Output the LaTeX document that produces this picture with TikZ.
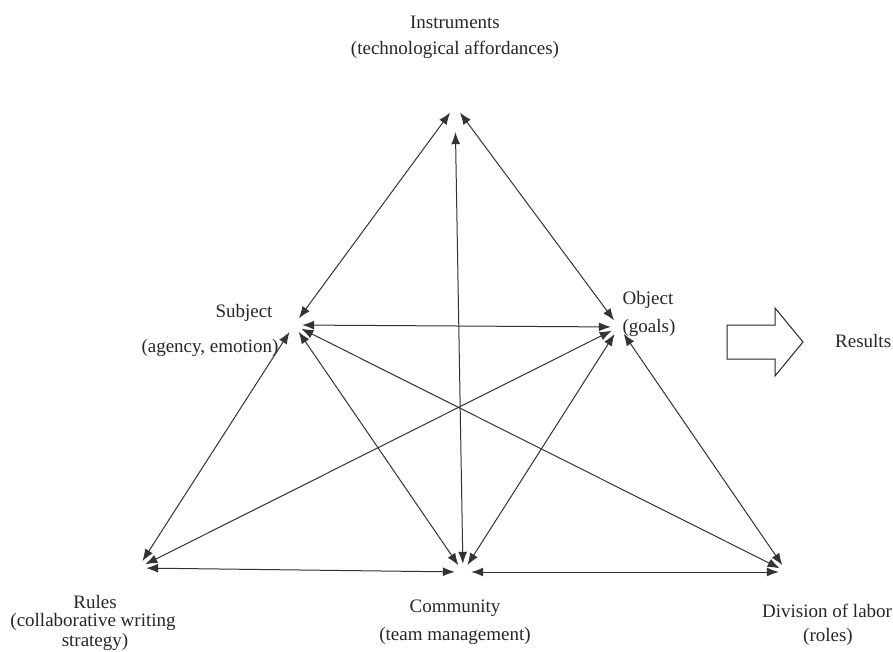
\documentclass[tikz,border=0pt]{standalone}
\usepackage{fontspec}
\setmainfont{Liberation Serif}
\usetikzlibrary{arrows.meta}
\begin{document}
\begin{tikzpicture}[x=1pt,y=-1pt,
  vertex/.style={circle,minimum size=16pt,inner sep=0pt},
  link/.style={draw=black!80,line width=1pt,
    {Latex[length=12pt,width=9pt]}-{Latex[length=12pt,width=9pt]}},
  lbl/.style={font=\fontsize{19}{22}\selectfont,inner sep=0pt,text=black!85},
  bigarrow/.style={draw=black!85,line width=1pt,fill=white}]
\useasboundingbox (0,0) rectangle (893,652);

% corners of the activity system
\node[vertex] (I) at (455,106) {};
\node[vertex] (S) at (294,325) {};
\node[vertex] (O) at (619,327) {};
\node[vertex] (R) at (138,568) {};
\node[vertex] (C) at (463,572) {};
\node[vertex] (D) at (787,572) {};

% mediating relations
\draw[link] (I) -- (S);
\draw[link] (I) -- (O);
\draw[link,shorten <=18pt] (I) -- (C);
\draw[link] (S) -- (O);
\draw[link] (S) -- (R);
\draw[link] (S) -- (C);
\draw[link] (S) -- (D);
\draw[link] (O) -- (R);
\draw[link] (O) -- (C);
\draw[link] (O) -- (D);
\draw[link] (R) -- (C);
\draw[link] (C) -- (D);

% labels
\node[lbl] (tI1) at (455,22) {Instruments};
\node[lbl] (tI2) at (455,50) {(technological affordances)};
\node[lbl] (tS1) at (244,313) {Subject};
\node[lbl] (tS2) at (210,348) {(agency, emotion)};
\node[lbl] (tO1) at (648,300) {Object};
\node[lbl] (tO2) at (649,328) {(goals)};
\node[lbl,anchor=west] (tRes) at (835,341) {Results};
\node[lbl] (tR1) at (95,602) {Rules};
\node[lbl] (tR2) at (93,622) {(collaborative writing};
\node[lbl] (tR3) at (95,642) {strategy)};
\node[lbl] (tC1) at (455,608) {Community};
\node[lbl] (tC2) at (455,636) {(team management)};
\node[lbl,anchor=west] (tD1) at (762,611) {Division of labor};
\node[lbl] (tD2) at (828,637) {(roles)};

% outcome arrow
\draw[bigarrow] (727,325) -- (775,325) -- (775,308) -- (803,342)
  -- (775,376) -- (775,359) -- (727,359) -- cycle;
\end{tikzpicture}
\end{document}
